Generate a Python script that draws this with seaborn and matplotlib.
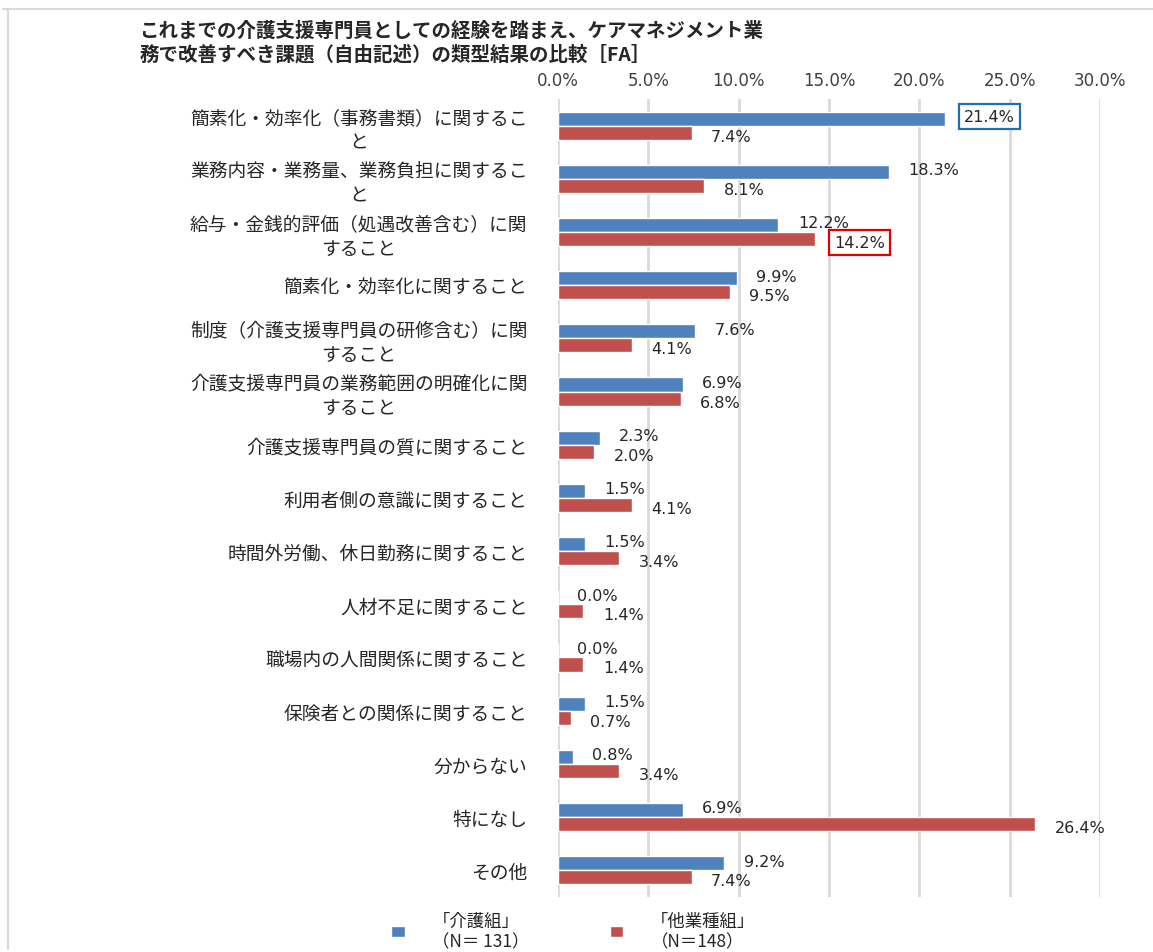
import numpy as np
import pandas as pd
import matplotlib
matplotlib.use("Agg")
import matplotlib.pyplot as plt
from matplotlib.lines import Line2D
import seaborn as sns

# ---------------------------------------------------------------------------
# Data
# ---------------------------------------------------------------------------
categories = [
    "簡素化・効率化（事務書類）に関するこ\nと",
    "業務内容・業務量、業務負担に関するこ\nと",
    "給与・金銭的評価（処遇改善含む）に関\nすること",
    "簡素化・効率化に関すること",
    "制度（介護支援専門員の研修含む）に関\nすること",
    "介護支援専門員の業務範囲の明確化に関\nすること",
    "介護支援専門員の質に関すること",
    "利用者側の意識に関すること",
    "時間外労働、休日勤務に関すること",
    "人材不足に関すること",
    "職場内の人間関係に関すること",
    "保険者との関係に関すること",
    "分からない",
    "特になし",
    "その他",
]
kaigo = [21.4, 18.3, 12.2, 9.9, 7.6, 6.9, 2.3, 1.5, 1.5, 0.0, 0.0, 1.5, 0.8, 6.9, 9.2]
tagyoshu = [7.4, 8.1, 14.2, 9.5, 4.1, 6.8, 2.0, 4.1, 3.4, 1.4, 1.4, 0.7, 3.4, 26.4, 7.4]
groups = ["「介護組」\n（N＝ 131）", "「他業種組」\n（N＝148）"]
x_ticks = [0, 5, 10, 15, 20, 25, 30]
title = ("これまでの介護支援専門員としての経験を踏まえ、ケアマネジメント業\n"
         "務で改善すべき課題（自由記述）の類型結果の比較［FA］")

df = pd.DataFrame({
    "category": categories * 2,
    "value": kaigo + tagyoshu,
    "group": [groups[0]] * len(categories) + [groups[1]] * len(categories),
})

# ---------------------------------------------------------------------------
# Plot
# ---------------------------------------------------------------------------
sns.set_style("white")
plt.rcParams["font.family"] = ["Noto Sans CJK JP", "DejaVu Sans"]

colors = ["#4F81BD", "#C0504D"]
text_color = "#262626"

fig = plt.figure(figsize=(11.53, 9.53), dpi=100)
ax = fig.add_axes([0.484, 0.058, 0.470, 0.837])

sns.barplot(data=df, y="category", x="value", hue="group", orient="h",
            palette=colors, width=0.53, order=categories, hue_order=groups,
            ax=ax, saturation=1, legend=True)

ax.set_xlim(0, 30)
ax.set_ylim(len(categories) - 0.5, -0.5)
ax.set_xticks(x_ticks)
ax.set_xticklabels([f"{t:.1f}%" for t in x_ticks], family="DejaVu Sans",
                   fontsize=12, color="#404040")
ax.xaxis.tick_top()
ax.tick_params(axis="x", length=0, pad=7)
ax.tick_params(axis="y", length=0, pad=22, labelsize=13.5, labelcolor=text_color)
for lbl in ax.get_yticklabels():
    lbl.set_multialignment("center")
    lbl.set_linespacing(1.2)
ax.set_xlabel("")
ax.set_ylabel("")
ax.grid(axis="x", color="#D9D9D9", linewidth=2)
ax.set_axisbelow(True)
for s in ax.spines.values():
    s.set_visible(False)

# value labels (blue nudged up, red nudged down so close pairs stay legible)
for i, container in enumerate(ax.containers):
    vals = kaigo if i == 0 else tagyoshu
    dy = 1.5 if i == 0 else -2.5
    for j, (bar, v) in enumerate(zip(container, vals)):
        yc = bar.get_y() + bar.get_height() / 2
        bbox = None
        if i == 0 and j == 0:
            bbox = dict(boxstyle="square,pad=0.3", fc="white", ec="#1F6FB5", lw=1.6)
        if i == 1 and j == 2:
            bbox = dict(boxstyle="square,pad=0.3", fc="white", ec="#E00000", lw=1.6)
        ax.annotate(f"{v:.1f}%", xy=(v, yc), xytext=(14, dy),
                    textcoords="offset points", ha="left", va="center",
                    family="DejaVu Sans", fontsize=11.5, color=text_color,
                    bbox=bbox)

# legend
leg = ax.get_legend()
handles = leg.legend_handles
leg.remove()
fig.legend(handles, groups, loc="center", bbox_to_anchor=(0.497, 0.022),
           ncol=2, frameon=False, fontsize=12.5, handlelength=0.8,
           handleheight=0.6, columnspacing=4.6, handletextpad=1.6,
           labelcolor=text_color)

# title
fig.text(0.121, 0.978, title, ha="left", va="top", fontsize=14,
         fontweight="bold", color=text_color, linespacing=1.3)

# outer chart-area border (left and top)
fig.add_artist(Line2D([8 / 1153, 8 / 1153], [1 - 10 / 953, 1 - 950 / 953],
                      color="#D9D9D9", lw=1.5, transform=fig.transFigure))
fig.add_artist(Line2D([3 / 1153, 1.0], [1 - 10 / 953, 1 - 10 / 953],
                      color="#D9D9D9", lw=1.5, transform=fig.transFigure))

fig.savefig("out.png", dpi=100)
